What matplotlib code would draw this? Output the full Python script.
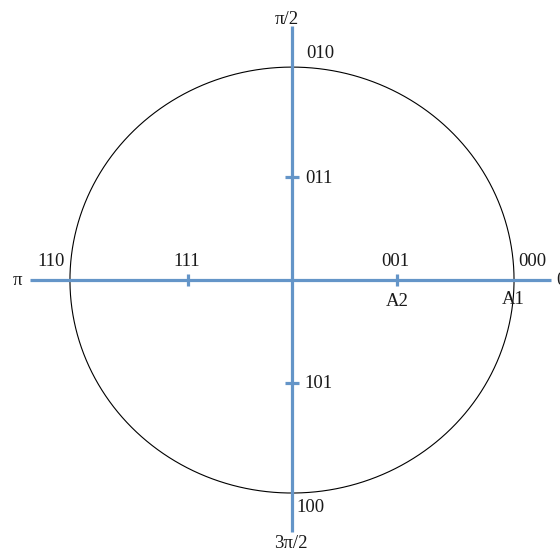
import numpy as np
import matplotlib
matplotlib.use("Agg")
import matplotlib.pyplot as plt

# unit circle (drawn slightly squashed, like the reference)
theta = np.linspace(0, 2 * np.pi, 400)

# axis extents
h_axis = [-1.18, 1.167]
v_axis = [-1.183, 1.192]

# tick marks on the axes
h_ticks = [-0.47, 0.473]
v_ticks = [0.483, -0.484]

# labels: text, x, y, horizontal alignment
labels = ['π', '110', '111', '001', 'A2', '000', 'A1', '0',
          'π/2', '010', '011', '101', '100', '3π/2']
label_x = [-1.257, -1.086, -0.473, 0.464, 0.473, 1.081, 0.995, 1.189,
           -0.023, 0.126, 0.122, 0.117, 0.081, -0.005]
label_y = [0.0, 0.085, 0.085, 0.085, -0.103, 0.085, -0.089, 0.0,
           1.225, 1.066, 0.479, -0.484, -1.070, -1.239]
label_ha = ['left', 'center', 'center', 'center', 'center', 'center', 'center', 'left',
            'center', 'center', 'center', 'center', 'center', 'center']

blue = '#6495c8'

fig = plt.figure(figsize=(5.6, 5.55), dpi=100)
ax = fig.add_axes([0, 0, 1, 1])
ax.set_xlim(-1.315, 1.207)
ax.set_ylim(-1.291, 1.315)
ax.axis('off')

ax.plot(np.cos(theta), np.sin(theta), color='black', lw=0.8, zorder=1)

ax.plot(h_axis, [0, 0], color=blue, lw=2.3, solid_capstyle='butt', zorder=2)
ax.plot([0, 0], v_axis, color=blue, lw=2.3, solid_capstyle='butt', zorder=2)

for t in h_ticks:
    ax.plot([t, t], [-0.03, 0.03], color=blue, lw=2.3, solid_capstyle='butt', zorder=2)
for t in v_ticks:
    ax.plot([-0.03, 0.03], [t, t], color=blue, lw=2.3, solid_capstyle='butt', zorder=2)

for s, x, y, ha in zip(labels, label_x, label_y, label_ha):
    ax.text(x, y, s, ha=ha, va='center', fontsize=13.5, color='#1a1a1a',
            family=['Liberation Serif', 'DejaVu Serif'])

fig.savefig('out.png', dpi=100)
